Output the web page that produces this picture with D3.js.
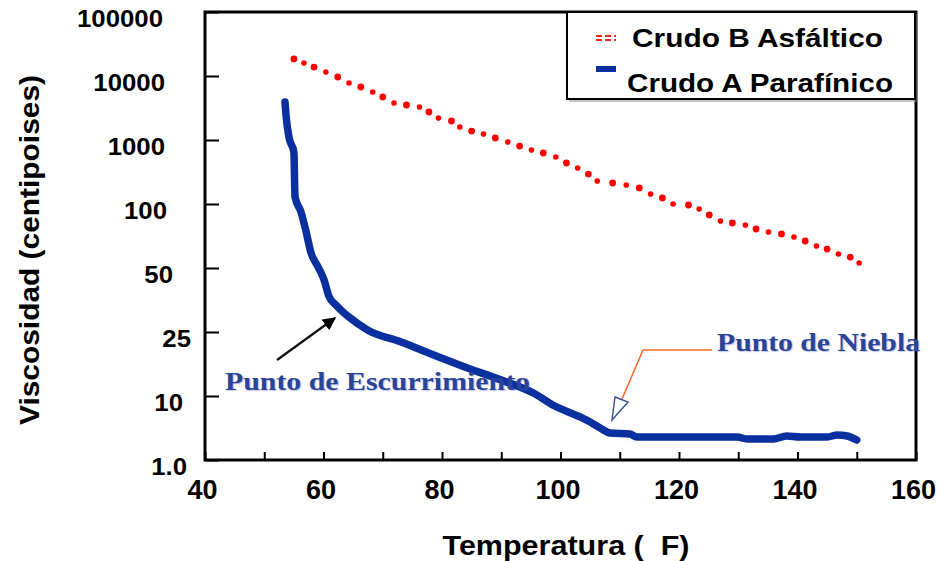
<!DOCTYPE html>
<html>
<head>
<meta charset="utf-8">
<script src="https://cdn.jsdelivr.net/npm/d3@7"></script>
<style>
  html, body { margin: 0; padding: 0; background: #fff; }
  svg { display: block; }
</style>
</head>
<body>
<svg id="chart" width="944" height="561"></svg>
<script>
// ---- Data ----
const yTickValues = [1, 10, 25, 50, 100, 1000, 10000, 100000];
const yTickLabels = ["1.0", "10", "25", "50", "100", "1000", "10000", "100000"];
const xTickValues = [40, 50, 60, 70, 80, 90, 100, 110, 120, 130, 140, 150, 160];
const xLabelValues = [40, 60, 80, 100, 120, 140, 160];

const seriesNames = ["Crudo B Asfáltico", "Crudo A Parafínico"];

// Crudo B Asfáltico (red dotted)
const crudoBTemp = [55.0,56.7,58.4,60.4,62.4,64.3,66.3,68.3,70.0,71.9,74.0,76.2,77.8,79.4,81.6,83.0,85.0,87.0,89.0,91.1,93.1,95.1,97.1,99.2,101.0,102.9,104.7,106.2,108.8,111.1,113.3,115.2,117.2,119.0,121.6,123.4,125.1,127.0,129.0,131.2,133.0,135.1,137.3,139.4,141.3,143.2,145.0,146.9,148.9,150.4];
const crudoBVisc = [18500,16000,13800,11550,9650,7780,6730,5620,4700,3790,3520,3280,2740,2210,1980,1600,1380,1240,1075,930,805,698,626,542,437,365,294,229,213,198,178,143,124,100,98.9,94.7,88.8,83.2,81.4,79.7,76.3,73.8,72.3,70.0,67.0,63.5,61.4,58.2,56.3,52.8];

// Crudo A Parafínico (blue solid)
const crudoATemp = [53.5,53.7,54.2,55.0,55.2,56.2,57.0,57.9,59.1,60.1,60.9,62.1,63.1,64.3,67.5,73.1,78.6,84.4,89.9,95.5,98.7,103.3,105.0,106.7,108.4,111.7,112.9,120.2,129.8,131.5,135.9,138.2,140.4,145.0,146.7,148.4,150.0];
const crudoAVisc = [3925,2287,1075,649,129,91.7,75.4,58.8,50.5,43.9,36.9,33.5,31.4,29.4,25.5,21.7,18.0,14.9,12.6,10.4,7.23,4.70,3.92,3.16,2.64,2.55,2.29,2.29,2.29,2.13,2.13,2.37,2.29,2.29,2.46,2.37,2.05];

const annotations = ["Punto de Escurrimiento", "Punto de Niebla"];
const xTitle = "Temperatura (  F)";
const yTitle = "Viscosidad (centipoises)";

// ---- Layout ----
const L = 205, R = 916, T = 12, B = 460;
const svg = d3.select("#chart");

const x = d3.scaleLinear().domain([40, 160]).range([L, R]);
const yIdx = d3.scaleLinear().domain([0, yTickValues.length - 1]).range([B, T]);
const y = d3.scaleLinear()
  .domain(yTickValues.map(Math.log10))
  .range(yTickValues.map((d, i) => yIdx(i)));
const yv = v => y(Math.log10(v));

function stretch(sel, f) {
  sel.each(function () {
    const w = this.getComputedTextLength();
    this.setAttribute("textLength", w * f);
    this.setAttribute("lengthAdjust", "spacingAndGlyphs");
  });
}
function fitTo(sel, w) {
  sel.attr("textLength", w).attr("lengthAdjust", "spacingAndGlyphs");
}

const sans = "'Liberation Sans', Arial, sans-serif";
const serif = "'Liberation Serif', 'Times New Roman', serif";

// ---- Axes ----
const yLabelNudge = { "1.0": 18, "10": 14, "25": 22, "50": 4, "100": -2, "1000": -4, "10000": -4, "100000": -6 };
const yAxis = d3.axisLeft(y)
  .tickValues(yTickValues.map(Math.log10))
  .tickFormat((d, i) => yTickLabels[i])
  .tickSize(-14)
  .tickPadding(36);
const gy = svg.append("g").attr("transform", `translate(${L},0)`).call(yAxis);
gy.select(".domain").remove();
gy.selectAll(".tick line").attr("stroke", "#000").attr("stroke-width", 2);
gy.selectAll(".tick text")
  .attr("font-family", sans).attr("font-weight", "bold").attr("font-size", 23)
  .attr("fill", "#000")
  .attr("dy", "0.62em")
  .attr("dx", function (d, i) { return yLabelNudge[yTickLabels[i]]; });
stretch(gy.selectAll(".tick text"), 1.12);

const xAxis = d3.axisBottom(x)
  .tickValues(xTickValues)
  .tickFormat(d => xLabelValues.includes(d) ? d : "")
  .tickSize(-8)
  .tickPadding(34);
const gx = svg.append("g").attr("transform", `translate(0,${B})`).call(xAxis);
gx.select(".domain").remove();
gx.selectAll(".tick line").attr("stroke", "#000").attr("stroke-width", 2);
gx.selectAll(".tick text")
  .attr("font-family", sans).attr("font-weight", "bold").attr("font-size", 27)
  .attr("fill", "#000").attr("dy", "0.2em").attr("dx", -3);

// frame
svg.append("rect")
  .attr("x", L).attr("y", T).attr("width", R - L).attr("height", B - T)
  .attr("fill", "none").attr("stroke", "#000").attr("stroke-width", 3);

// ---- Series ----
const dataA = crudoATemp.map((t, i) => ({ t, v: crudoAVisc[i] }));
const dataB = crudoBTemp.map((t, i) => ({ t, v: crudoBVisc[i] }));

svg.append("path")
  .datum(dataA)
  .attr("fill", "none")
  .attr("stroke", "#0a2f9f")
  .attr("stroke-width", 7.5)
  .attr("stroke-linejoin", "round")
  .attr("stroke-linecap", "round")
  .attr("d", d3.line().curve(d3.curveMonotoneX).x(d => x(d.t)).y(d => yv(d.v)));

svg.append("g").selectAll("circle")
  .data(dataB)
  .join("circle")
  .attr("cx", d => x(d.t))
  .attr("cy", d => yv(d.v))
  .attr("r", (d, i) => i % 2 ? 2.8 : 3.4)
  .attr("fill", "#ff0000");

// ---- Legend ----
const lg = svg.append("g");
lg.append("rect").attr("x", 569).attr("y", 14).attr("width", 348).attr("height", 88).attr("fill", "#888").attr("opacity", 0.5);
lg.append("rect").attr("x", 567).attr("y", 12).attr("width", 348).attr("height", 87)
  .attr("fill", "#fff").attr("stroke", "#000").attr("stroke-width", 2);
[36, 40].forEach(yy => {
  lg.append("line").attr("x1", 596).attr("x2", 616).attr("y1", yy).attr("y2", yy)
    .attr("stroke", "#ff2020").attr("stroke-width", 2).attr("stroke-dasharray", "6,3");
});
lg.append("rect").attr("x", 596).attr("y", 66).attr("width", 20).attr("height", 6).attr("fill", "#0a2f9f");
const lt1 = lg.append("text").attr("x", 632).attr("y", 47).text(seriesNames[0]);
const lt2 = lg.append("text").attr("x", 627).attr("y", 92).text(seriesNames[1]);
lg.selectAll("text").attr("font-family", sans).attr("font-weight", "bold").attr("font-size", 25).attr("fill", "#000");
fitTo(lt1, 251);
fitTo(lt2, 266);

// ---- Axis titles ----
const xt = svg.append("text").attr("x", 566).attr("y", 555).attr("text-anchor", "middle")
  .attr("font-family", sans).attr("font-weight", "bold").attr("font-size", 27).attr("fill", "#000")
  .style("white-space", "pre").attr("xml:space", "preserve")
  .text(xTitle);
fitTo(xt, 247);

const yt = svg.append("text").attr("transform", "translate(39,250) rotate(-90)").attr("text-anchor", "middle")
  .attr("font-family", sans).attr("font-weight", "bold").attr("font-size", 28).attr("fill", "#000")
  .text(yTitle);
fitTo(yt, 350);

// ---- Annotations ----
const defs = svg.append("defs");
defs.append("marker").attr("id", "arrowBlack").attr("viewBox", "0 0 10 10")
  .attr("refX", 9).attr("refY", 5).attr("markerWidth", 6).attr("markerHeight", 6)
  .attr("markerUnits", "strokeWidth").attr("orient", "auto")
  .append("path").attr("d", "M0,0 L10,5 L0,10 z").attr("fill", "#000");

svg.append("line").attr("x1", 277).attr("y1", 360).attr("x2", 335).attr("y2", 318)
  .attr("stroke", "#111").attr("stroke-width", 2.2).attr("marker-end", "url(#arrowBlack)");

const a1 = svg.append("text").attr("x", 225).attr("y", 390).text(annotations[0]);
const a2 = svg.append("text").attr("x", 717).attr("y", 351).text(annotations[1]);
[a1, a2].forEach(s => s.attr("font-family", serif).attr("font-weight", "bold")
  .attr("font-size", 25).attr("fill", "#2a4496")
  .style("text-shadow", "1px 1px 1px rgba(90,90,200,0.35)"));
fitTo(a1, 305);
fitTo(a2, 203);

svg.append("polyline").attr("points", "712,350 643,350 622,399")
  .attr("fill", "none").attr("stroke", "#ff6a2a").attr("stroke-width", 1.6);
svg.append("polygon").attr("points", "615,397 628,402 612,420")
  .attr("fill", "#fff").attr("stroke", "#3a4f8f").attr("stroke-width", 1.4);
</script>
</body>
</html>
